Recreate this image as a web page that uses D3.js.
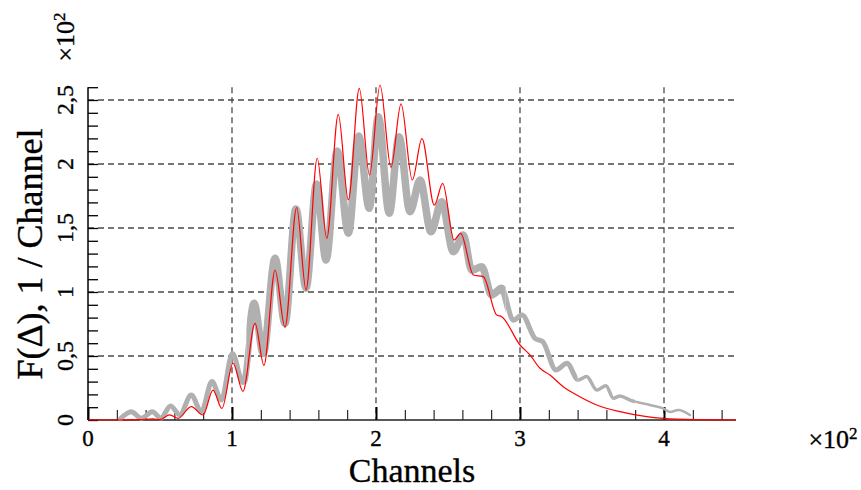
<!DOCTYPE html>
<html><head><meta charset="utf-8">
<script src="https://cdn.jsdelivr.net/npm/d3@7/dist/d3.min.js"></script>
<style>body{margin:0;background:#fff}svg{display:block}text{font-family:"Liberation Serif","Times New Roman",serif;fill:#000;stroke:#000;stroke-width:0.35}</style>
</head><body><svg id="c" width="861" height="490"></svg>
<script>
const xTickValues = [0, 100, 200, 300, 400];
const xTickLabels = ["0", "1", "2", "3", "4"];
const yTickValues = [0, 50, 100, 150, 200, 250];
const yTickLabels = ["0", "0,5", "1", "1,5", "2", "2,5"];
const xTitle = "Channels";
const yTitle = "F(\u0394), 1 / Channel";
const scaleBase = "\u00d710";
const scaleExp = "2";

const redX = [0, 20, 36, 45, 50, 56.7, 62.5, 71.7, 79.9, 86.8, 93, 100.7, 107.6, 116, 122.2, 129.9, 136.8, 144.9, 151.4, 159.2, 165.8, 173.8, 180.8, 188.4, 195.5, 202.8, 210.4, 217.4, 225.2, 231.9, 240.5, 246.3, 254.2, 258.8, 267.6, 274.5, 283.8, 287.3, 300, 306.9, 313.9, 320.8, 330, 339.4, 353.3, 369.4, 388, 399.5, 423, 450];
const redY = [0, 0, 0.3, 0.9, 0.3, 4, 1.3, 10.4, 3.9, 23.4, 9, 44.5, 22.4, 75.5, 42.7, 117.2, 72.4, 166, 101.6, 204.5, 141.9, 238.8, 171.9, 259.1, 191.4, 261.7, 197.4, 246.9, 187.5, 219.8, 167.8, 184.9, 140.6, 145.8, 113.3, 112, 82, 80.7, 58.6, 50.8, 40.4, 35.2, 26, 19.5, 11.7, 6.5, 2.6, 1.3, 0.3, 0];

const grayX = [22.5, 30.1, 37, 44.7, 50.5, 57.4, 63.7, 71.7, 78.7, 86.1, 92.6, 100.3, 107.6, 115.3, 121.7, 129.9, 136.8, 144.4, 151.4, 158.7, 165.3, 173.1, 180.8, 188, 195.3, 201.6, 209.2, 216, 223.6, 230.6, 238.2, 245.6, 253.7, 260.6, 266.5, 273.4, 280.3, 287.3, 295.3, 301.4, 310.4, 315.8, 325, 332.6, 340.5, 346.3, 353.3, 359.7, 364.8, 369.4, 376.4, 390.3, 399.5, 404.2, 410, 418];
const grayY = [1, 6.5, 1.3, 6.5, 1.5, 11, 4, 19.5, 6.5, 30, 15.6, 52, 29.3, 91.2, 52, 126.3, 75.5, 164.8, 102.9, 184.4, 125, 210.2, 145.9, 221.9, 165.4, 237, 161.5, 221.3, 162.7, 187.5, 147.1, 170.5, 131.5, 144.5, 117, 119.8, 97.7, 102.9, 78, 82, 63.8, 61.2, 39, 44.3, 31.3, 34, 23.4, 26.8, 17, 18.8, 15.6, 11.7, 9.1, 6.3, 7.8, 3.9];

const svg = d3.select("#c");
const x = d3.scaleLinear().domain([0, 450]).range([88, 736]);
const y = d3.scaleLinear().domain([0, 260]).range([420, 87.2]);

// grid
const grid = svg.append("g").attr("stroke", "#4a4a4a").attr("stroke-width", 1.3).attr("stroke-dasharray", "6,4");
xTickValues.filter(v => v > 0).forEach(v => {
  grid.append("line").attr("x1", x(v)).attr("x2", x(v)).attr("y1", y(260)).attr("y2", y(0));
});
yTickValues.filter(v => v > 0).forEach(v => {
  grid.append("line").attr("x1", x(0)).attr("x2", x(450)).attr("y1", y(v)).attr("y2", y(v));
});

// axes with inward ticks
const xMinor = d3.range(0, 451, 20).filter(v => v % 100 !== 0);
const gx = svg.append("g").attr("transform", `translate(0,${y(0)})`);
gx.call(d3.axisTop(x).tickValues(xMinor).tickSize(10).tickFormat(""));
gx.select(".domain").remove();
const gx2 = svg.append("g").attr("transform", `translate(0,${y(0)})`);
gx2.call(d3.axisTop(x).tickValues(xTickValues).tickSize(13).tickFormat(""));
gx2.select(".domain").remove();
gx2.selectAll("line").attr("stroke-width", 2);
svg.append("line").attr("x1", x(0)).attr("x2", x(450)).attr("y1", y(0)).attr("y2", y(0)).attr("stroke", "#222").attr("stroke-width", 1.5);

const gy = svg.append("g").attr("transform", `translate(${x(0)},0)`);
gy.call(d3.axisRight(y).tickValues(d3.range(0, 261, 10)).tickSize(10).tickFormat(""));
gy.select(".domain").remove();
gy.selectAll("line").attr("stroke-width", 1.3);
svg.append("line").attr("x1", x(0)).attr("x2", x(0)).attr("y1", y(0)).attr("y2", y(260)).attr("stroke", "#000").attr("stroke-width", 1.5);

// curves
const defs = svg.append("defs");
const bands = [[0, 110, 5], [110, 290, 7.5], [290, 340, 5], [340, 380, 3.5], [380, 450, 2.5]];
bands.forEach((b, i) => {
  defs.append("clipPath").attr("id", "cb" + i).append("rect")
    .attr("x", x(b[0])).attr("width", x(b[1]) - x(b[0])).attr("y", 0).attr("height", 490);
});
const line = d3.line().x(d => x(d[0])).y(d => y(d[1])).curve(d3.curveMonotoneX);
const grayData = grayX.map((v, i) => [v, grayY[i]]);
const redData = redX.map((v, i) => [v, redY[i]]);
bands.forEach((b, i) => {
  svg.append("path").attr("d", line(grayData)).attr("fill", "none")
    .attr("stroke", "#b0b0b0").attr("stroke-width", b[2]).attr("stroke-linejoin", "round")
    .attr("stroke-linecap", "round").attr("clip-path", `url(#cb${i})`);
});
svg.append("path").attr("d", line(redData)).attr("fill", "none").attr("stroke", "#ff0000").attr("stroke-width", 1.2);

// labels
xTickValues.forEach((v, i) => {
  svg.append("text").attr("x", x(v)).attr("y", 446).attr("text-anchor", "middle")
    .attr("font-size", 23).text(xTickLabels[i]);
});
yTickValues.forEach((v, i) => {
  svg.append("text").attr("transform", `translate(73,${y(v)}) rotate(-90)`).attr("text-anchor", "middle")
    .attr("font-size", 24).text(yTickLabels[i]);
});
function scaleText(g) {
  g.attr("font-size", 26).attr("text-anchor", "middle");
  g.append("tspan").text(scaleBase);
  g.append("tspan").attr("font-size", 17).attr("dy", -9).text(scaleExp);
}
svg.append("text").attr("transform", "translate(74,37) rotate(-90)").call(scaleText);
svg.append("text").attr("x", 833).attr("y", 448).call(scaleText);
svg.append("text").attr("x", 412).attr("y", 482).attr("text-anchor", "middle")
  .attr("font-size", 34).text(xTitle);
svg.append("text").attr("transform", "translate(42,254) rotate(-90)").attr("text-anchor", "middle")
  .attr("font-size", 36).text(yTitle);
</script></body></html>
